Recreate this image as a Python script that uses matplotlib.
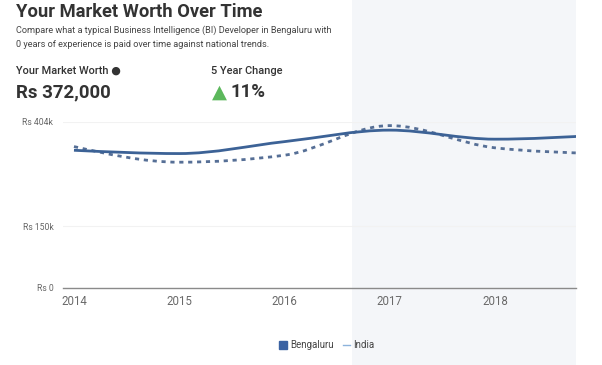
import numpy as np
import matplotlib
matplotlib.use('Agg')
import matplotlib.pyplot as plt
from matplotlib.path import Path
from matplotlib.patches import PathPatch
from matplotlib.lines import Line2D

plt.rcParams['font.family'] = ['Roboto', 'DejaVu Sans']

years = [2014, 2015, 2016, 2017, 2018, 2019]
bengaluru = [335000, 327000, 356000, 384000, 362000, 372000]
india = [344000, 306000, 323000, 395000, 341000, 327000]
ytick_vals = [0, 150000, 404000]
ytick_labels = ['Rs 0', 'Rs 150k', 'Rs 404k']
xtick_vals = [2014, 2015, 2016, 2017, 2018]
highlight_start = 2016.64

title = 'Your Market Worth Over Time'
subtitle = ('Compare what a typical Business Intelligence (BI) Developer in Bengaluru with\n'
            '0 years of experience is paid over time against national trends.')


# monotone-x smooth path (same idea as d3.curveMonotoneX)
def monotone_path(x, y):
    x = np.asarray(x, float)
    y = np.asarray(y, float)
    n = len(x)
    h = np.diff(x)
    s = np.diff(y) / h
    t = np.zeros(n)
    for i in range(1, n - 1):
        p = (s[i-1]*h[i] + s[i]*h[i-1]) / (h[i-1] + h[i])
        t[i] = (np.sign(s[i-1]) + np.sign(s[i])) * min(abs(s[i-1]), abs(s[i]), 0.5*abs(p))
    t[0] = (3*s[0] - t[1]) / 2
    t[-1] = (3*s[-1] - t[-2]) / 2
    verts = [(x[0], y[0])]
    codes = [Path.MOVETO]
    for i in range(n - 1):
        dx = h[i] / 3
        verts += [(x[i]+dx, y[i]+dx*t[i]), (x[i+1]-dx, y[i+1]-dx*t[i+1]), (x[i+1], y[i+1])]
        codes += [Path.CURVE4] * 3
    return Path(verts, codes)


fig = plt.figure(figsize=(6.02, 3.65), dpi=100)
ax = fig.add_axes([0.1047, 0.211, 0.852, 0.455])

ax.axvspan(highlight_start, 2018.77, ymin=-1.5, ymax=2.5, color='#f4f6f9',
           clip_on=False, zorder=0, lw=0)

ax.add_patch(PathPatch(monotone_path(years, bengaluru), fill=False,
                       edgecolor='#3c6296', lw=2, zorder=3))
ax.add_patch(PathPatch(monotone_path(years, india), fill=False,
                       edgecolor='#566f96', lw=2, ls=(0, (1.5, 1.7)), zorder=2))

ax.set_xlim(2013.896, 2018.77)
ax.set_ylim(0, 404000)
ax.set_yticks(ytick_vals)
ax.set_yticklabels(ytick_labels)
ax.set_xticks(xtick_vals)
ax.set_xticklabels([str(v) for v in xtick_vals])
ax.tick_params(axis='y', length=0, pad=7, labelsize=6.2, labelcolor='#666666')
ax.tick_params(axis='x', length=0, pad=5, labelsize=8.3, labelcolor='#6a6a6a')
for side in ['top', 'right', 'left']:
    ax.spines[side].set_visible(False)
ax.spines['bottom'].set_color('#8a8a8a')
ax.spines['bottom'].set_linewidth(1)
ax.grid(axis='y', color='#f2f2f2', lw=0.8)
ax.set_facecolor('none')
ax.set_axisbelow(True)

# header texts
fig.text(16/602, 1 - 12/365, title, fontsize=13.2, fontweight='bold',
         color='#333333', va='center', ha='left')
fig.text(16/602, 1 - 37/365, subtitle, fontsize=6.6, color='#444444',
         va='center', ha='left', linespacing=1.75)
fig.text(16/602, 1 - 71/365, 'Your Market Worth \u25cf', fontsize=7.9,
         fontweight='medium', color='#333333', va='center', ha='left')
fig.text(16/602, 1 - 92/365, 'Rs 372,000', fontsize=13.4, fontweight='bold',
         color='#333333', va='center', ha='left')
fig.text(211/602, 1 - 71/365, '5 Year Change', fontsize=7.9,
         fontweight='medium', color='#333333', va='center', ha='left')
fig.text(212/602, 1 - 92/365, '\u25b2', fontsize=14, color='#5cb85c',
         va='center', ha='left', family=['DejaVu Sans'])
fig.text(230/602, 1 - 92/365, '11%', fontsize=13.4, fontweight='bold',
         color='#333333', va='center', ha='left')

handles = [Line2D([], [], marker='s', ls='none', color='#3b63a3', markersize=6),
           Line2D([], [], ls='-', color='#8db3dc', lw=1)]
leg = fig.legend(handles, ['Bengaluru', 'India'], loc='center',
                 bbox_to_anchor=(327/602, 1 - 345/365), ncol=2, frameon=False,
                 fontsize=7, handlelength=0.8, handletextpad=0.3, columnspacing=0.9)
for txt in leg.get_texts():
    txt.set_color('#444444')

fig.savefig('out.png', dpi=100)
